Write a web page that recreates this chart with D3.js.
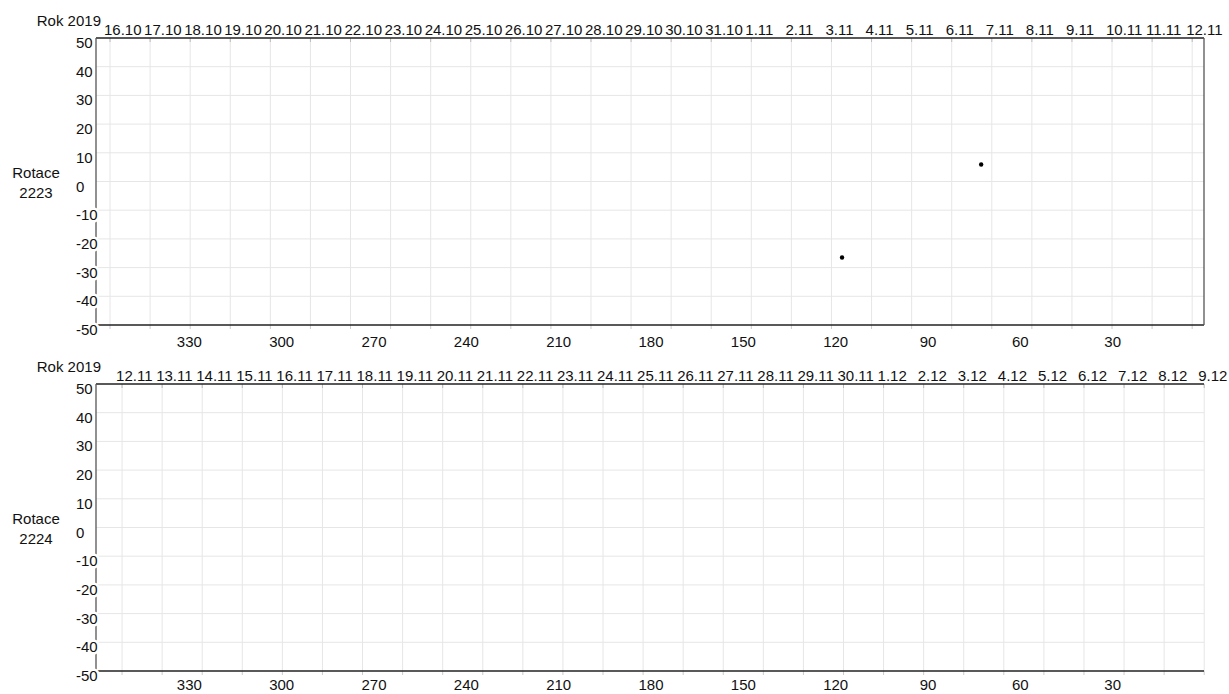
<!DOCTYPE html>
<html lang="cs">
<head>
  <meta charset="UTF-8">
  <title>Rotace 2223 / 2224</title>
  <script src="https://cdn.jsdelivr.net/npm/d3@7"></script>
  <style>
    body { margin: 0; background: #fff; }
    svg text {
      font-family: 'Liberation Sans', Arial, sans-serif;
      font-size: 15px;
      fill: #111;
    }
    .grid line { stroke: #e6e6e6; stroke-width: 1px; }
    .frame { stroke: #222; stroke-width: 1.3px; fill: none; }
    .ylab { paint-order: stroke; stroke: #fff; stroke-width: 5px; }
  </style>
</head>
<body>
  <div id="chart"></div>
  <script>
    // --- data ---
    const year = 'Rok 2019';
    const rotations = [2223, 2224];

    const datesRot2223 = ['16.10', '17.10', '18.10', '19.10', '20.10', '21.10', '22.10', '23.10', '24.10', '25.10',
      '26.10', '27.10', '28.10', '29.10', '30.10', '31.10', '1.11', '2.11', '3.11', '4.11', '5.11', '6.11', '7.11',
      '8.11', '9.11', '10.11', '11.11', '12.11'];
    const datesRot2224 = ['12.11', '13.11', '14.11', '15.11', '16.11', '17.11', '18.11', '19.11', '20.11', '21.11',
      '22.11', '23.11', '24.11', '25.11', '26.11', '27.11', '28.11', '29.11', '30.11', '1.12', '2.12', '3.12', '4.12',
      '5.12', '6.12', '7.12', '8.12', '9.12'];

    // first date line, in days after start of rotation
    const firstDayRot2223 = 0.35;
    const firstDayRot2224 = 0.65;

    // spots: Carrington longitude + latitude
    const lonRot2223 = [117.6, 72.4];
    const latRot2223 = [-26.5, 5.9];
    const lonRot2224 = [];
    const latRot2224 = [];

    const lonTicks = [330, 300, 270, 240, 210, 180, 150, 120, 90, 60, 30];
    const latTicks = [50, 40, 30, 20, 10, 0, -10, -20, -30, -40, -50];

    // --- layout ---
    const W = 1229, H = 694;
    const left = 96, right = 1204;
    const panelTops = [38, 384];
    const panelH = 287;
    const lonLabelOffset = [22, 19];
    const pxPerDay = 40.08;

    const svg = d3.select('#chart').append('svg')
      .attr('width', W)
      .attr('height', H);

    const xScale = d3.scaleLinear().domain([360, 0]).range([left, right]);
    const dayScale = d3.scaleLinear().domain([0, (right - left) / pxPerDay]).range([left, right]);

    function drawPanel(i, dates, firstDay, lons, lats) {
      let top = panelTops[i];
      let bottom = top + panelH;
      let yScale = d3.scaleLinear().domain([-50, 50]).range([bottom, top]);
      let g = svg.append('g');

      let dayX = dates.map((d, k) => dayScale(firstDay + k));

      // grid
      let grid = g.append('g').attr('class', 'grid');
      grid.selectAll('.v').data(dayX).enter().append('line')
        .attr('x1', d => d).attr('x2', d => d)
        .attr('y1', top).attr('y2', bottom);
      grid.selectAll('.h').data(latTicks.slice(1, -1)).enter().append('line')
        .attr('x1', left).attr('x2', right)
        .attr('y1', d => yScale(d)).attr('y2', d => yScale(d));

      // small ticks on top/bottom edges
      grid.selectAll('.tt').data(dayX).enter().append('line')
        .attr('x1', d => d).attr('x2', d => d)
        .attr('y1', top).attr('y2', top + 4)
        .style('stroke', '#bbb');
      grid.selectAll('.bt').data(dayX).enter().append('line')
        .attr('x1', d => d).attr('x2', d => d)
        .attr('y1', bottom).attr('y2', bottom + 4)
        .style('stroke', '#ccc');

      // frame
      g.append('line').attr('class', 'frame')
        .attr('x1', left).attr('x2', right).attr('y1', top).attr('y2', top);
      g.append('line').attr('class', 'frame')
        .attr('x1', left).attr('x2', right).attr('y1', bottom).attr('y2', bottom);
      g.append('line').attr('class', 'frame').style('stroke', '#555')
        .attr('x1', left).attr('x2', left).attr('y1', top).attr('y2', bottom);
      if (i === 0) {
        g.append('line').attr('class', 'frame').style('stroke', '#555')
          .attr('x1', right).attr('x2', right).attr('y1', top).attr('y2', bottom);
      }

      // date labels along top
      g.selectAll('.date').data(dates).enter().append('text')
        .attr('x', (d, k) => dayX[k] - 6)
        .attr('y', top - 3)
        .text(d => d);

      g.append('text')
        .attr('x', 101).attr('y', top - 12)
        .style('text-anchor', 'end')
        .text(year);

      // latitude labels (white halo hides the axis line like the original)
      g.selectAll('.ylab').data(latTicks).enter().append('text')
        .attr('class', 'ylab')
        .attr('x', 76)
        .attr('y', d => yScale(d) + 10)
        .text(d => d);

      // longitude labels
      g.selectAll('.lon').data(lonTicks).enter().append('text')
        .attr('x', d => xScale(d) + 1)
        .attr('y', bottom + lonLabelOffset[i])
        .style('text-anchor', 'middle')
        .text(d => d);

      // rotation label
      let y0 = yScale(0);
      g.append('text').attr('x', 36).attr('y', y0 - 4)
        .style('text-anchor', 'middle').text('Rotace');
      g.append('text').attr('x', 36).attr('y', y0 + 16)
        .style('text-anchor', 'middle').text(rotations[i]);

      // spots
      g.selectAll('.spot').data(lons).enter().append('circle')
        .attr('cx', d => xScale(d))
        .attr('cy', (d, k) => yScale(lats[k]))
        .attr('r', 2.2)
        .style('fill', '#000');
    }

    drawPanel(0, datesRot2223, firstDayRot2223, lonRot2223, latRot2223);
    drawPanel(1, datesRot2224, firstDayRot2224, lonRot2224, latRot2224);
  </script>
</body>
</html>
